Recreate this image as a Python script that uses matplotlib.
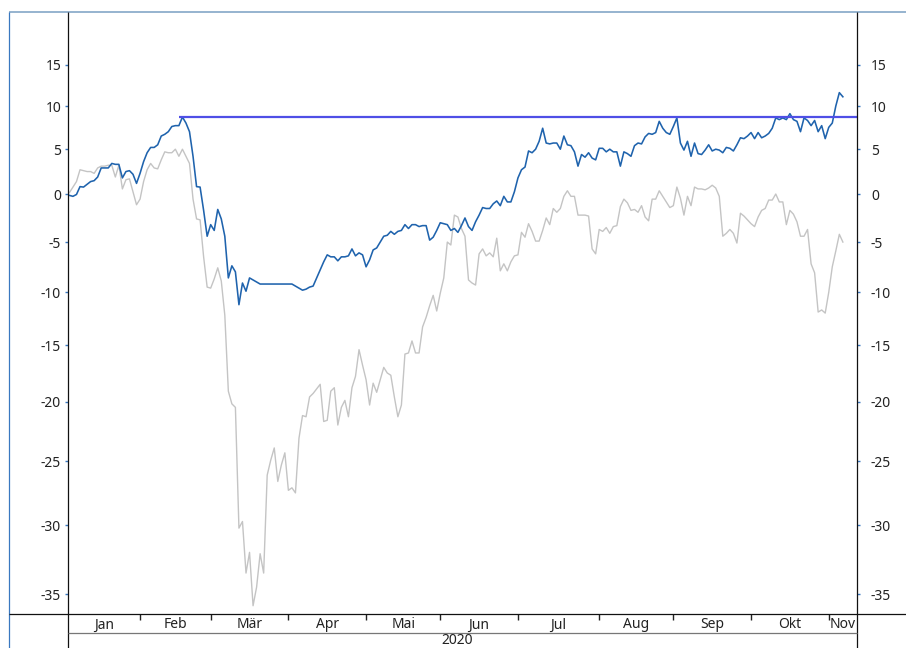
import numpy as np
import pandas as pd
import matplotlib
matplotlib.use("Agg")
import matplotlib.pyplot as plt
from matplotlib.lines import Line2D

# ---------------- data ----------------
start_date = "2020-01-06"          # first weekday of the series
fund = [
    -0.1, -0.2, 0.0, 0.85, 0.8, 1.1, 1.4, 1.5, 1.9, 2.9,
    2.9, 2.9, 3.4, 3.3, 3.3, 1.8, 2.5, 2.6, 2.2, 1.2,
    2.3, 3.6, 4.6, 5.2, 5.2, 5.5, 6.5, 6.7, 7.0, 7.6,
    7.7, 7.7, 8.7, 8.0, 7.0, 4.2, 0.85, 0.8, -1.7, -4.4,
    -3.2, -3.8, -1.6, -2.6, -4.4, -8.6, -7.4, -8.0, -11.2, -9.1,
    -9.9, -8.6, -8.8, -9.0, -9.2, -9.2, -9.2, -9.2, -9.2, -9.2,
    -9.2, -9.2, -9.2, -9.2, -9.4, -9.6, -9.8, -9.7, -9.5, -9.4,
    -8.6, -7.8, -7.0, -6.3, -6.5, -6.5, -6.9, -6.5, -6.5, -6.4,
    -5.7, -6.4, -6.1, -6.3, -7.5, -6.8, -5.8, -5.6, -5.0, -4.4,
    -4.3, -3.9, -4.2, -3.9, -3.8, -3.2, -3.6, -3.2, -3.2, -3.4,
    -3.3, -3.3, -4.8, -4.5, -3.8, -3.0, -3.1, -3.2, -3.8, -3.6,
    -4.0, -3.3, -2.5, -3.4, -3.8, -2.9, -2.2, -1.4, -1.5, -1.5,
    -1.0, -0.7, -1.2, -0.2, -0.8, -0.8, 0.3, 1.8, 2.7, 3.0,
    4.8, 4.6, 5.0, 5.9, 7.4, 5.7, 5.6, 5.7, 5.7, 5.0,
    6.5, 5.5, 5.4, 4.7, 3.1, 4.4, 4.1, 4.6, 4.0, 3.8,
    5.1, 5.1, 4.7, 5.0, 4.7, 4.7, 3.1, 4.7, 4.5, 4.2,
    5.4, 5.7, 5.6, 6.4, 6.8, 6.7, 6.9, 8.2, 7.4, 6.9,
    6.7, 7.6, 8.6, 5.7, 4.9, 5.9, 4.2, 5.7, 4.5, 4.4,
    4.9, 5.5, 4.8, 5.0, 4.9, 4.6, 5.2, 5.1, 4.8, 5.5,
    6.3, 6.2, 6.5, 6.9, 6.2, 6.9, 6.3, 6.5, 6.8, 7.4,
    8.6, 8.4, 8.6, 8.4, 9.1, 8.4, 8.2, 7.0, 8.6, 8.3,
    7.7, 8.3, 7.0, 7.7, 6.2, 7.5, 8.0, 10.0, 11.6, 11.1,
]
benchmark = [
    0.2, 0.8, 1.4, 2.7, 2.6, 2.5, 2.5, 2.3, 2.9, 3.1,
    3.1, 3.2, 3.2, 1.9, 3.2, 0.6, 1.6, 1.7, 0.3, -1.1,
    -0.5, 1.4, 2.7, 3.4, 2.9, 2.8, 3.8, 4.7, 4.6, 4.6,
    5.0, 4.2, 5.0, 4.2, 3.4, -0.5, -2.6, -2.7, -6.5, -9.5,
    -9.6, -8.7, -7.6, -8.9, -12.2, -19.1, -20.2, -20.5, -30.2, -29.7,
    -33.5, -32.0, -35.8, -34.5, -32.1, -33.5, -26.1, -24.9, -23.9, -26.6,
    -25.3, -24.3, -27.3, -27.1, -27.5, -23.1, -21.2, -21.3, -19.6, -19.3,
    -18.9, -18.5, -21.7, -21.6, -19.1, -18.8, -22.0, -20.5, -19.9, -21.3,
    -18.8, -17.8, -15.4, -16.8, -18.1, -20.3, -18.4, -19.2, -18.1, -17.0,
    -17.5, -17.7, -19.6, -21.3, -20.3, -15.8, -15.7, -14.6, -15.7, -15.7,
    -13.3, -12.4, -11.3, -10.3, -11.8, -10.1, -8.6, -5.0, -5.3, -2.2,
    -2.4, -3.6, -4.4, -8.8, -9.1, -9.3, -6.2, -5.7, -6.4, -6.1,
    -6.5, -4.6, -7.9, -7.2, -7.9, -7.0, -6.4, -6.3, -4.0, -4.5,
    -3.1, -3.9, -4.9, -4.9, -3.8, -2.5, -3.2, -1.5, -1.9, -1.5,
    -0.2, 0.4, -0.2, -0.2, -2.2, -2.2, -2.2, -2.3, -5.7, -6.2,
    -3.7, -3.9, -3.5, -4.1, -3.4, -3.3, -1.3, -0.5, -0.9, -1.7,
    -1.6, -1.9, -1.2, -2.4, -2.8, -0.5, -0.5, 0.4, -0.2, -0.8,
    -1.4, -1.2, 0.8, -0.4, -2.2, -0.2, -1.2, 0.8, 0.6, 0.6,
    0.5, 0.7, 1.0, 0.7, -0.2, -4.4, -4.1, -3.7, -4.1, -5.1,
    -2.0, -2.3, -2.7, -3.1, -3.4, -2.4, -1.7, -1.5, -0.6, -0.6,
    0.05, -0.8, -0.8, -3.2, -1.7, -2.1, -2.9, -4.4, -4.4, -3.7,
    -7.2, -8.1, -11.9, -11.7, -12.0, -10.0, -7.5, -5.9, -4.2, -5.0,
]
high_value = 8.7
high_start = "2020-02-18"
month_labels = ["Jan", "Feb", "Mär", "Apr", "Mai", "Jun", "Jul", "Aug", "Sep", "Okt", "Nov"]
year_label = "2020"
y_ticks = [15, 10, 5, 0, -5, -10, -15, -20, -25, -30, -35]

# ---------------- figure ----------------
W, H = 906, 648
plt.rcParams["font.family"] = ["Noto Sans", "DejaVu Sans"]
fig = plt.figure(figsize=(W / 100, H / 100), dpi=100)

def fx(px):
    return px / W

def fy(py):
    return 1 - py / H

L, R, T, B = 68, 857, 12, 614
ax = fig.add_axes([fx(L), fy(B), fx(R) - fx(L), fy(T) - fy(B)])

dates = pd.bdate_range(start_date, periods=len(fund))
xi = np.arange(len(dates))

def fwd(v):
    return np.log1p(np.asarray(v, dtype=float) / 100.0)

def inv(u):
    return 100.0 * np.expm1(np.asarray(u, dtype=float))

ax.set_yscale("function", functions=(fwd, inv))

ax.plot(xi, benchmark, color="#c4c4c4", lw=1.0, zorder=2)
ax.plot(xi, fund, color="#1f63ad", lw=1.15, zorder=3)

x_left, x_right = -0.4, 223.0
hs = dates.get_indexer([pd.Timestamp(high_start)])[0]
ax.plot([hs, x_right], [high_value, high_value], color="#4f4fe6", lw=1.6, zorder=4,
        solid_capstyle="butt")

ax.set_xlim(x_left, x_right)
ax.set_ylim(-36.37, 21.73)

# month ticks (positions of first weekday of each month)
all_days = pd.bdate_range(start_date, periods=int(x_right) + 1)
month_pos = []
for m in range(2, 12):
    first = all_days[all_days >= pd.Timestamp(2020, m, 1)][0]
    month_pos.append(all_days.get_loc(first))
edges = [x_left] + month_pos + [x_right]
centers = [(edges[k] + edges[k + 1]) / 2 for k in range(len(edges) - 1)]

ax.set_xticks(month_pos)
ax.set_xticklabels([])
ax.set_xticks(centers, minor=True)
ax.set_xticklabels(month_labels, minor=True)
ax.tick_params(axis="x", which="major", direction="out", length=4, width=1, color="#222222",
               bottom=True, top=False)
ax.tick_params(axis="x", which="minor", length=0, pad=2.5, labelsize=10, labelcolor="#222222")

ax.set_yticks(y_ticks)
ax.set_yticklabels([str(t) for t in y_ticks])
ax.yaxis.set_minor_locator(matplotlib.ticker.NullLocator())
ax.tick_params(axis="y", which="major", direction="out", length=2, width=1, color="#3a78c0",
               pad=3, labelsize=10, labelcolor="#222222")

ax2 = ax.twinx()
ax2.set_yscale("function", functions=(fwd, inv))
ax2.set_ylim(ax.get_ylim())
ax2.set_yticks(y_ticks)
ax2.set_yticklabels([str(t) for t in y_ticks])
ax2.yaxis.set_minor_locator(matplotlib.ticker.NullLocator())
ax2.tick_params(axis="y", which="major", direction="out", length=2, width=1, color="#3a78c0",
                pad=8, labelsize=10, labelcolor="#222222")

for a in (ax, ax2):
    for s in a.spines.values():
        s.set_visible(False)

# frame lines
def fline(x0, y0, x1, y1, color, lw):
    fig.add_artist(Line2D([fx(x0), fx(x1)], [fy(y0), fy(y1)], color=color, lw=lw,
                          transform=fig.transFigure, solid_capstyle="butt"))

fline(9, 12, 906, 12, "#8eaecb", 1.3)
fline(9, 12, 9, 648, "#3a78c0", 0.9)
fline(L, 12, L, 648, "#111111", 0.9)
fline(R, 12, R, 648, "#111111", 0.9)
fline(9, B, 906, B, "#111111", 0.9)
fline(L, 633, R, 633, "#777777", 0.9)

fig.text(fx((L + R) / 2 - 5), fy(640), year_label, ha="center", va="center",
         fontsize=10, color="#222222")

fig.savefig("out.png", dpi=100)
